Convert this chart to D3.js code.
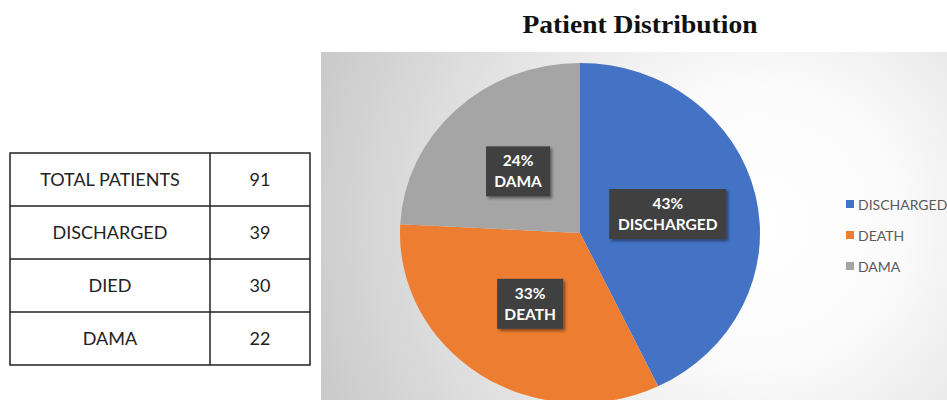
<!DOCTYPE html>
<html><head><meta charset="utf-8">
<script src="https://cdn.jsdelivr.net/npm/d3@7"></script>
<style>body{margin:0;background:#fff;}svg{display:block;}</style>
</head><body>
<svg id="c" width="947" height="400"></svg>
<script>
const categories = ["DISCHARGED", "DEATH", "DAMA"];
const values = [39, 30, 22];
const percentLabels = ["43%", "33%", "24%"];
const colors = ["#4472C4", "#ED7D31", "#A5A5A5"];
const tableLabels = ["TOTAL PATIENTS", "DISCHARGED", "DIED", "DAMA"];
const tableValues = [91, 39, 30, 22];
const title = "Patient Distribution";

const svg = d3.select("#c");
const defs = svg.append("defs");
const g = defs.append("radialGradient").attr("id","bg").attr("gradientUnits","userSpaceOnUse")
  .attr("cx",760).attr("cy",225).attr("r",460);
g.append("stop").attr("offset","0").attr("stop-color","#ffffff");
g.append("stop").attr("offset","0.3").attr("stop-color","#fbfbfb");
g.append("stop").attr("offset","1").attr("stop-color","#cbcbcb");
const f = defs.append("filter").attr("id","sh").attr("x","-20%").attr("y","-20%").attr("width","150%").attr("height","150%");
f.append("feDropShadow").attr("dx",2).attr("dy",2).attr("stdDeviation",1.5).attr("flood-color","#000").attr("flood-opacity",0.45);

// Title
svg.append("text").attr("x",640).attr("y",33).attr("text-anchor","middle")
  .attr("font-family","'Liberation Serif', 'DejaVu Serif', serif").attr("font-weight","bold")
  .attr("font-size",25).attr("textLength",235).attr("lengthAdjust","spacingAndGlyphs")
  .attr("fill","#111").text(title);

// Panel
svg.append("rect").attr("x",321).attr("y",52).attr("width",626).attr("height",360).attr("fill","url(#bg)");

// Pie
const cx = 580, cy = 233, r = 180, sy = 0.945;
const pie = d3.pie().sort(null).value(d => d)(values);
const arc = d3.arc().innerRadius(0).outerRadius(r);
const pg = svg.append("g").attr("transform",`translate(${cx},${cy}) scale(1,${sy})`);
pg.selectAll("path").data(pie).join("path").attr("d",arc).attr("fill",(d,i)=>colors[i]);

// Labels
const labelArc = d3.arc().innerRadius(90).outerRadius(90);
const lab = svg.append("g").attr("transform",`translate(${cx},${cy})`);
const boxW = [117, 66, 64];
pie.forEach((d,i) => {
  const c = labelArc.centroid(d);
  const x = c[0], y = c[1]*sy;
  const lg = lab.append("g").attr("transform",`translate(${x},${y})`);
  lg.append("rect").attr("x",-boxW[i]/2).attr("y",-25).attr("width",boxW[i]).attr("height",50)
    .attr("fill","#404040").attr("filter","url(#sh)");
  lg.append("text").attr("text-anchor","middle").attr("y",-5).attr("fill","#fff")
    .attr("font-family","Lato, 'Open Sans', sans-serif").attr("font-weight","bold").attr("font-size",15.5)
    .text(percentLabels[i]);
  lg.append("text").attr("text-anchor","middle").attr("y",16).attr("fill","#fff")
    .attr("font-family","Lato, 'Open Sans', sans-serif").attr("font-weight","bold").attr("font-size",15.5)
    .text(categories[i]);
});

// Legend
const leg = svg.append("g").attr("transform","translate(846,204)");
categories.forEach((c,i) => {
  const row = leg.append("g").attr("transform",`translate(0,${i*31})`);
  row.append("rect").attr("x",0).attr("y",-4).attr("width",8).attr("height",8).attr("fill",colors[i]);
  row.append("text").attr("x",12).attr("y",5.5).attr("fill","#595959")
    .attr("font-family","Lato, 'Open Sans', sans-serif").attr("font-size",14).text(c);
});

// Table
const tx0 = 10, tx1 = 210, tx2 = 310, ty0 = 153, rowH = 53;
const y = d3.scaleBand().domain(d3.range(tableLabels.length)).range([ty0, ty0 + rowH*tableLabels.length]);
const tb = svg.append("g");
tb.append("rect").attr("x",tx0).attr("y",ty0).attr("width",tx2-tx0).attr("height",rowH*4)
  .attr("fill","none").attr("stroke","#222").attr("stroke-width",1.5);
tb.append("line").attr("x1",tx1).attr("x2",tx1).attr("y1",ty0).attr("y2",ty0+rowH*4).attr("stroke","#222").attr("stroke-width",1.5);
tableLabels.forEach((t,i) => {
  if (i>0) tb.append("line").attr("x1",tx0).attr("x2",tx2).attr("y1",y(i)).attr("y2",y(i)).attr("stroke","#222").attr("stroke-width",1.5);
  tb.append("text").attr("x",(tx0+tx1)/2).attr("y",y(i)+y.bandwidth()/2+6).attr("text-anchor","middle")
    .attr("font-family","Lato, 'Open Sans', sans-serif").attr("font-size",18).attr("fill","#222").text(t);
  tb.append("text").attr("x",(tx1+tx2)/2).attr("y",y(i)+y.bandwidth()/2+6).attr("text-anchor","middle")
    .attr("font-family","Lato, 'Open Sans', sans-serif").attr("font-size",18).attr("fill","#222").text(tableValues[i]);
});
</script>
</body></html>
